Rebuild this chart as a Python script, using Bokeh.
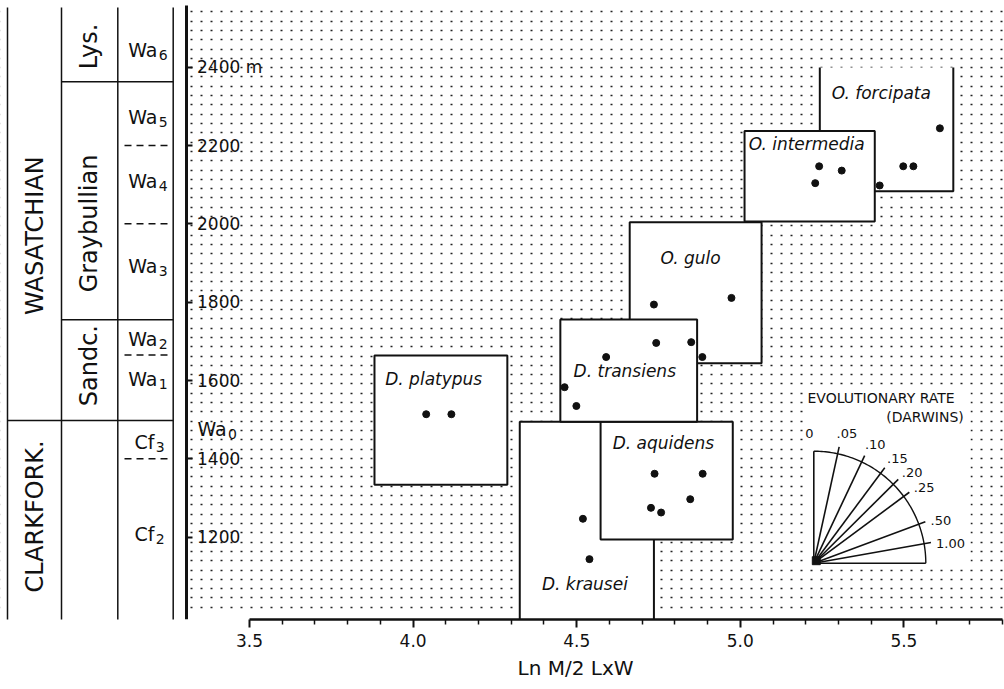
import numpy as np
from bokeh.plotting import figure
from bokeh.models import (LinearAxis, FixedTicker, SingleIntervalTicker, Range1d,
                          Title, Grid, PrintfTickFormatter)
from bokeh.core.properties import value
from bokeh.embed import file_html
from bokeh.resources import INLINE

FONT = "DejaVu Sans"
INK = "#111111"

# ---------------- data ----------------
# x: Ln M/2 LxW, y: stratigraphic level (m)
species    = ["D. krausei", "D. aquidens", "D. platypus", "O. gulo", "D. transiens", "O. intermedia"]
box_left   = [4.326, 4.573, 3.882, 4.662, 4.450, 5.013]
box_right  = [4.736, 4.977, 4.288, 5.065, 4.868, 5.411]
box_bottom = [980, 1194, 1334, 1644, 1495, 2006]
box_top    = [1495, 1495, 1664, 2004, 1756, 2237]
label_x    = [4.525, 4.765, 4.063, 4.848, 4.647, 5.203]
label_y    = [1080, 1440, 1605, 1914, 1624, 2205]

# open-topped box
forc_name = "O. forcipata"
forc_left, forc_right, forc_bottom, forc_top = 5.243, 5.651, 2083, 2399
forc_label_x, forc_label_y = 5.431, 2334

krausei_x    = [4.519, 4.539]
krausei_y    = [1247, 1144]
aquidens_x   = [4.738, 4.885, 4.847, 4.727, 4.758]
aquidens_y   = [1362, 1362, 1297, 1275, 1263]
platypus_x   = [4.040, 4.117]
platypus_y   = [1514, 1514]
transiens_x  = [4.590, 4.463, 4.499, 4.743, 4.850]
transiens_y  = [1660, 1583, 1535, 1696, 1698]
gulo_x       = [4.736, 4.973, 4.884]
gulo_y       = [1794, 1811, 1660]
intermedia_x = [5.241, 5.310, 5.229]
intermedia_y = [2147, 2136, 2104]
forcipata_x  = [5.610, 5.498, 5.529, 5.426]
forcipata_y  = [2244, 2147, 2147, 2098]

x_major_ticks = [3.5, 4.0, 4.5, 5.0, 5.5]
x_minor_ticks = [3.6, 3.7, 3.8, 3.9, 4.1, 4.2, 4.3, 4.4, 4.6, 4.7, 4.8, 4.9,
                 5.1, 5.2, 5.3, 5.4, 5.6, 5.7, 5.8]
y_ticks = [1200, 1400, 1600, 1800, 2000, 2200, 2400]

# stratigraphic column
stages          = ["WASATCHIAN", "CLARKFORK."]
stage_y         = [1970, 1253]
substages       = ["Lys.", "Graybullian", "Sandc."]
substage_y      = [2453, 2001, 1638]
zone_main       = ["Wa", "Wa", "Wa", "Wa", "Wa", "Wa", "Cf", "Cf"]
zone_sub        = ["6", "5", "4", "3", "2", "1", "3", "2"]
zone_y          = [2443, 2274, 2110, 1893, 1707, 1605, 1444, 1209]
stage_boundary  = [1498]
substage_bounds = [2363, 1755]
zone_bounds     = [2200, 2000, 1665, 1400]
wa0_y = 1477

# evolutionary-rate key
rate_labels    = ["0", ".05", ".10", ".15", ".20", ".25", ".50", "1.00"]
rate_angle_deg = [90.0, 77.7, 64.7, 53.4, 44.8, 36.6, 20.4, 10.0]

# ---------------- pixel <-> data helpers (layout only) ----------------
PX_X = 327.2      # px per unit of x
PX_M = 0.39167    # px per metre


def xd(px):
    return 3.5 + (px - 249.0) / PX_X


def yd(py):
    return 2400 - (py - 66.7) / PX_M


p = figure(width=1004, height=689,
           x_range=Range1d(xd(0), xd(1004)), y_range=Range1d(yd(619), yd(0)),
           output_backend="svg", toolbar_location=None, title=None,
           x_axis_location="below", y_axis_location=None,
           min_border_left=0, min_border_right=0, min_border_top=0, min_border_bottom=70,
           outline_line_color=None, background_fill_color="white",
           border_fill_color="white")
p.grid.visible = False

# dotted background
dots = Grid(dimension=1, ticker=SingleIntervalTicker(interval=23.75, num_minor_ticks=0),
            bounds=(1010, 2552), grid_line_color="#222222", grid_line_width=1.4,
            grid_line_dash="2 8")
p.add_layout(dots)

# ---- x axis ----
xa = p.xaxis[0]
xa.ticker = FixedTicker(ticks=x_major_ticks, minor_ticks=x_minor_ticks)
xa.formatter = PrintfTickFormatter(format="%.1f")
xa.bounds = (3.5, 5.8)
xa.axis_line_width = 2.5
xa.axis_line_color = INK
xa.major_tick_line_width = 2
xa.major_tick_line_color = INK
xa.major_tick_out = 8
xa.major_tick_in = 0
xa.minor_tick_line_width = 1.5
xa.minor_tick_line_color = INK
xa.minor_tick_out = 5
xa.minor_tick_in = 0
xa.major_label_text_font = FONT
xa.major_label_text_font_size = "17px"
xa.major_label_text_color = INK
xa.major_label_standoff = 6

p.add_layout(Title(text="Ln M/2 LxW", align="left", offset=517, text_font=FONT,
                   text_font_size="20px", text_font_style="normal", text_color=INK,
                   standoff=9), "below")

# ---- y axis (drawn inside, labels to the right) ----
ya = LinearAxis(fixed_location=xd(185.5), ticker=FixedTicker(ticks=y_ticks),
                formatter=PrintfTickFormatter(format="%d"), bounds=(yd(622), yd(5)))
ya.major_label_overrides = {2400: "2400 m"}
ya.axis_line_width = 3
ya.axis_line_color = INK
ya.major_tick_out = 6
ya.major_tick_in = 0
ya.major_tick_line_width = 2
ya.major_tick_line_color = INK
ya.minor_tick_out = 0
ya.minor_tick_in = 0
ya.major_label_text_font = FONT
ya.major_label_text_font_size = "17px"
ya.major_label_text_color = INK
ya.major_label_standoff = 5
p.add_layout(ya, "right")

# ---- stratigraphic column ----
p.quad(left=[xd(-5)], right=[xd(183.5)], bottom=[yd(700)], top=[yd(-5)],
       fill_color="white", line_color=None)
col_x = [xd(v) for v in (7, 61, 117.3, 172.7)]
p.segment(x0=col_x, y0=[yd(7)] * 4, x1=col_x, y1=[yd(630)] * 4,
          line_width=1.5, line_color=INK)
p.segment(x0=[xd(7)] * len(stage_boundary), y0=stage_boundary,
          x1=[xd(172.7)] * len(stage_boundary), y1=stage_boundary,
          line_width=1.5, line_color=INK)
p.segment(x0=[xd(61)] * len(substage_bounds), y0=substage_bounds,
          x1=[xd(172.7)] * len(substage_bounds), y1=substage_bounds,
          line_width=1.5, line_color=INK)
p.segment(x0=[xd(124)] * len(zone_bounds), y0=zone_bounds,
          x1=[xd(170)] * len(zone_bounds), y1=zone_bounds,
          line_width=1.5, line_color=INK, line_dash="7 5")

p.text(x=[xd(34)] * len(stages), y=stage_y, text=stages, angle=np.pi / 2,
       text_font=value(FONT), text_font_size="24px", text_color=INK,
       text_align="center", text_baseline="middle")
p.text(x=[xd(88)] * len(substages), y=substage_y, text=substages, angle=np.pi / 2,
       text_font=value(FONT), text_font_size="24px", text_color=INK,
       text_align="center", text_baseline="middle")
split_px = [157 if m == "Wa" else 154 for m in zone_main]
p.text(x=[xd(s) for s in split_px], y=zone_y, text=zone_main,
       text_font=value(FONT), text_font_size="19px", text_color=INK,
       text_align="right", text_baseline="middle")
p.text(x=[xd(s + 1.2) for s in split_px], y=zone_y, text=zone_sub,
       text_font=value(FONT), text_font_size="14px", text_color=INK,
       text_align="left", text_baseline="middle", y_offset=5)
p.text(x=[xd(197)], y=[wa0_y], text=["Wa"], text_font=value(FONT),
       text_font_size="19px", text_color=INK, text_align="left", text_baseline="middle")
p.text(x=[xd(227.5)], y=[wa0_y], text=["0"], text_font=value(FONT),
       text_font_size="14px", text_color=INK, text_align="left",
       text_baseline="middle", y_offset=5)

# ---- species boxes ----
box_kw = dict(fill_color="white", line_color=INK, line_width=2)
p.quad(left=box_left[:5], right=box_right[:5], bottom=box_bottom[:5], top=box_top[:5], **box_kw)
p.quad(left=[forc_left], right=[forc_right], bottom=[forc_bottom], top=[forc_top],
       fill_color="white", line_color=None)
p.line(x=[forc_left, forc_left, forc_right, forc_right],
       y=[forc_top, forc_bottom, forc_bottom, forc_top], line_color=INK, line_width=2)
p.quad(left=box_left[5:], right=box_right[5:], bottom=box_bottom[5:], top=box_top[5:], **box_kw)

p.text(x=label_x + [forc_label_x], y=label_y + [forc_label_y], text=species + [forc_name],
       text_font=value(FONT), text_font_style="italic", text_font_size="17px",
       text_color=INK, text_align="center", text_baseline="middle")

all_x = krausei_x + aquidens_x + platypus_x + transiens_x + gulo_x + intermedia_x + forcipata_x
all_y = krausei_y + aquidens_y + platypus_y + transiens_y + gulo_y + intermedia_y + forcipata_y
p.scatter(x=all_x, y=all_y, size=7, marker="circle", fill_color=INK, line_color=INK)

# ---- evolutionary rate key ----
p.quad(left=[xd(803)], right=[xd(970)], bottom=[yd(568)], top=[yd(388)],
       fill_color="white", line_color=None)
p.text(x=[xd(807)], y=[yd(397.7)], text=["EVOLUTIONARY RATE"], text_font=value(FONT),
       text_font_size="14px", text_color=INK, text_align="left", text_baseline="middle")
p.text(x=[xd(963.3)], y=[yd(416.7)], text=["(DARWINS)"], text_font=value(FONT),
       text_font_size="14px", text_color=INK, text_align="right", text_baseline="middle")

ox, oy = xd(813.3), yd(562.7)
R_ARC, R_RAY = 112.0, 119.0
ang = np.radians(rate_angle_deg)
ray_len = [R_ARC if a == 90.0 else R_RAY for a in rate_angle_deg]
rx = [ox + L * np.cos(a) / PX_X for a, L in zip(ang, ray_len)]
ry = [oy + L * np.sin(a) / PX_M for a, L in zip(ang, ray_len)]
p.segment(x0=[ox] * len(rx), y0=[oy] * len(ry), x1=rx, y1=ry, line_width=1.6, line_color=INK)
p.segment(x0=[ox], y0=[oy], x1=[ox + R_ARC / PX_X], y1=[oy], line_width=1.6, line_color=INK)
th = np.radians(np.linspace(0, 90, 91))
p.line(x=ox + R_ARC * np.cos(th) / PX_X, y=oy + R_ARC * np.sin(th) / PX_M,
       line_width=1.4, line_color=INK)
p.scatter(x=[ox + 2.5 / PX_X], y=[oy + 2.5 / PX_M], marker="square", size=8,
          fill_color=INK, line_color=INK)

lab_r = [130 if a == 90.0 else (138 if a < 15 else 134) for a in rate_angle_deg]
lab_a = np.radians([a + 2 if a == 90.0 else a - 2 for a in rate_angle_deg])
p.text(x=[ox + r * np.cos(a) / PX_X for a, r in zip(lab_a, lab_r)],
       y=[oy + r * np.sin(a) / PX_M for a, r in zip(lab_a, lab_r)],
       text=rate_labels, text_font=value(FONT), text_font_size="13px", text_color=INK,
       text_align="center", text_baseline="middle")

open("out.html", "w").write(file_html(p, INLINE))
